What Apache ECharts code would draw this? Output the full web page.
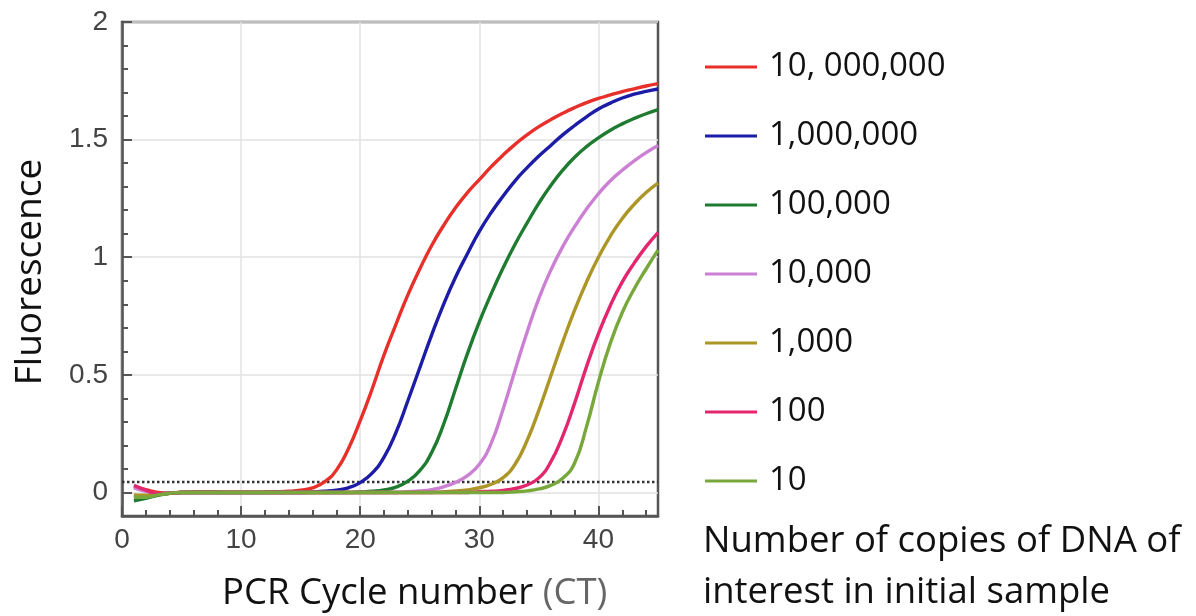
<!DOCTYPE html>
<html>
<head>
<meta charset="utf-8">
<script src="https://cdn.jsdelivr.net/npm/echarts@6/dist/echarts.min.js"></script>
<style>
  html, body { margin: 0; padding: 0; background: #ffffff; }
  #chart { width: 1196px; height: 616px; }
</style>
</head>
<body>
<div id="chart"></div>
<script>
// ---- Data ----
const cycles = [1,2,3,4,5,6,7,8,9,10,11,12,13,14,15,16,17,18,19,20,21,22,23,24,25,26,27,28,29,30,31,32,33,34,35,36,37,38,39,40,41,42,43,44,45];

const seriesNames = ['10, 000,000', '1,000,000', '100,000', '10,000', '1,000', '100', '10'];

const copies10M = [0.025,0.012,0.0,-0.003,0.001,0.002,0.002,0.002,0.001,0.001,0.001,0.002,0.003,0.005,0.01,0.02,0.045,0.095,0.185,0.305,0.44,0.585,0.715,0.84,0.95,1.05,1.135,1.21,1.275,1.33,1.385,1.435,1.48,1.52,1.555,1.585,1.612,1.636,1.657,1.675,1.69,1.704,1.716,1.728,1.738];
const copies1M = [-0.02,-0.015,-0.008,-0.003,0,0,0,0,0,0,0,0,0,0,0,0.002,0.005,0.01,0.02,0.042,0.082,0.15,0.255,0.39,0.53,0.67,0.8,0.915,1.015,1.11,1.19,1.26,1.325,1.38,1.43,1.475,1.52,1.56,1.597,1.63,1.655,1.677,1.693,1.705,1.715];
const copies100k = [-0.035,-0.025,-0.012,-0.004,0,0,0,0,0,0,0,0,0,0,0,0,0,0,0,0.002,0.005,0.011,0.023,0.048,0.093,0.17,0.29,0.44,0.59,0.725,0.845,0.955,1.055,1.145,1.23,1.305,1.37,1.425,1.47,1.507,1.54,1.567,1.59,1.61,1.627];
const copies10k = [0.02,0.005,-0.005,-0.003,0,0,0,0,0,0,0,0,0,0,0,0,0,0,0,0,0,0,0,0.003,0.006,0.012,0.024,0.043,0.072,0.12,0.21,0.355,0.52,0.68,0.825,0.945,1.045,1.13,1.205,1.27,1.325,1.37,1.41,1.445,1.475];
const copies1k = [-0.01,-0.012,-0.008,-0.003,0,0,0,0,0,0,0,0,0,0,0,0,0,0,0,0,0,0,0,0,0,0,0.003,0.006,0.011,0.02,0.035,0.063,0.12,0.22,0.35,0.495,0.64,0.775,0.895,1.0,1.09,1.165,1.225,1.275,1.315];
const copies100 = [0.03,0.01,-0.005,-0.004,0,0,0,0,0,0,0,0,0,0,0,0,0,0,0,0,0,0,0,0,0,0,0,0,0,0.003,0.005,0.009,0.017,0.032,0.062,0.13,0.24,0.38,0.535,0.675,0.795,0.895,0.975,1.045,1.105];
const copies10 = [-0.02,-0.02,-0.01,-0.004,0,0,0,0,0,0,0,0,0,0,0,0,0,0,0,0,0,0,0,0,0,0,0,0,0,0,0,0,0.003,0.007,0.015,0.03,0.06,0.125,0.28,0.47,0.635,0.765,0.865,0.95,1.03];

const thresholdValue = 0.045;

const xLabelTicks = [0, 10, 20, 30, 40];
const xMinorTicks = [2,4,6,8,12,14,16,18,22,24,26,28,32,34,36,38,42,44];
const yLabelTicks = [0, 0.5, 1, 1.5, 2];
const yMinorTicks = [0.1,0.2,0.3,0.4,0.6,0.7,0.8,0.9,1.1,1.2,1.3,1.4,1.6,1.7,1.8,1.9];

// ---- Styling ----
const colors = ['#e8302a', '#1c1ca6', '#1e7b30', '#cc80d4', '#ad9628', '#e3276f', '#78a83c'];
const allValues = [copies10M, copies1M, copies100k, copies10k, copies1k, copies100, copies10];

const chart = echarts.init(document.getElementById('chart'), null, { renderer: 'canvas' });

const lineSeries = allValues.map((vals, i) => ({
  name: seriesNames[i],
  type: 'line',
  xAxisIndex: 0,
  yAxisIndex: 0,
  data: cycles.map((c, j) => [c, vals[j]]),
  showSymbol: false,
  smooth: 0.5,
  lineStyle: { width: 3.4, color: colors[i] },
  itemStyle: { color: colors[i] },
  z: 3 + i,
  animation: false
}));

const thresholdSeries = {
  name: 'threshold',
  type: 'line',
  xAxisIndex: 0,
  yAxisIndex: 0,
  data: [[0, thresholdValue], [45, thresholdValue]],
  showSymbol: false,
  lineStyle: { width: 2.5, color: '#333', type: [2.5, 2.5] },
  z: 2,
  silent: true,
  animation: false
};

const axisColor = '#555';

const option = {
  backgroundColor: '#ffffff',
  animation: false,
  grid: {
    left: 122, top: 22, right: 538, bottom: 100,
    show: true, borderColor: axisColor, borderWidth: 2.5, backgroundColor: 'transparent'
  },
  xAxis: [
    {
      type: 'value', min: 0, max: 45,
      axisLine: { show: true, onZero: false, lineStyle: { color: axisColor, width: 2.5 } },
      axisTick: { show: true, inside: true, length: 10, customValues: xLabelTicks, lineStyle: { color: axisColor, width: 2 } },
      axisLabel: { show: true, customValues: xLabelTicks, margin: 10, fontFamily: 'Liberation Sans', fontSize: 28, color: '#444' },
      splitLine: { show: true, lineStyle: { color: '#e2e2e2', width: 1.5 } }
    },
    {
      type: 'value', min: 0, max: 45, position: 'bottom',
      axisLine: { show: false, onZero: false },
      axisTick: { show: true, inside: true, length: 6, customValues: xMinorTicks, lineStyle: { color: axisColor, width: 2 } },
      axisLabel: { show: false },
      splitLine: { show: false }
    }
  ],
  yAxis: [
    {
      type: 'value', min: -0.1, max: 2,
      axisLine: { show: true, onZero: false, lineStyle: { color: axisColor, width: 2.5 } },
      axisTick: { show: true, inside: true, length: 10, customValues: yLabelTicks, lineStyle: { color: axisColor, width: 2 } },
      axisLabel: { show: true, customValues: yLabelTicks, margin: 14, fontFamily: 'Liberation Sans', fontSize: 28, color: '#444' },
      splitLine: { show: true, lineStyle: { color: '#e2e2e2', width: 1.5 } }
    },
    {
      type: 'value', min: -0.1, max: 2, position: 'left',
      axisLine: { show: false, onZero: false },
      axisTick: { show: true, inside: true, length: 6, customValues: yMinorTicks, lineStyle: { color: axisColor, width: 2 } },
      axisLabel: { show: false },
      splitLine: { show: false }
    }
  ],
  legend: {
    orient: 'vertical',
    left: 700, top: 44,
    data: seriesNames,
    icon: 'rect',
    itemWidth: 52, itemHeight: 3,
    itemGap: 33,
    selectedMode: false,
    textStyle: { fontFamily: '"Open Sans", sans-serif', fontSize: 33, lineHeight: 36, color: '#111', padding: [0, 0, 0, 7] }
  },
  graphic: [
    {
      type: 'text', x: 30, y: 272, rotation: Math.PI / 2,
      style: { text: 'Fluorescence', font: '37px "Open Sans", sans-serif', fill: '#111', align: 'center', verticalAlign: 'middle' }
    },
    {
      type: 'text', x: 222, y: 594,
      style: {
        text: '{a|PCR Cycle number }{b|(CT)}',
        verticalAlign: 'middle', align: 'left',
        rich: {
          a: { fontFamily: '"Open Sans", sans-serif', fontSize: 36.5, fill: '#111', color: '#111' },
          b: { fontFamily: '"Open Sans", sans-serif', fontSize: 36.5, fill: '#666', color: '#666' }
        }
      }
    },
    {
      type: 'text', x: 703, y: 542,
      style: { text: 'Number of copies of DNA of', font: '36.5px "Open Sans", sans-serif', fill: '#111', align: 'left', verticalAlign: 'middle' }
    },
    {
      type: 'text', x: 703, y: 593,
      style: { text: 'interest in initial sample', font: '36.5px "Open Sans", sans-serif', fill: '#111', align: 'left', verticalAlign: 'middle' }
    }
  ],
  series: [thresholdSeries, ...lineSeries]
};

chart.setOption(option);
</script>
</body>
</html>
